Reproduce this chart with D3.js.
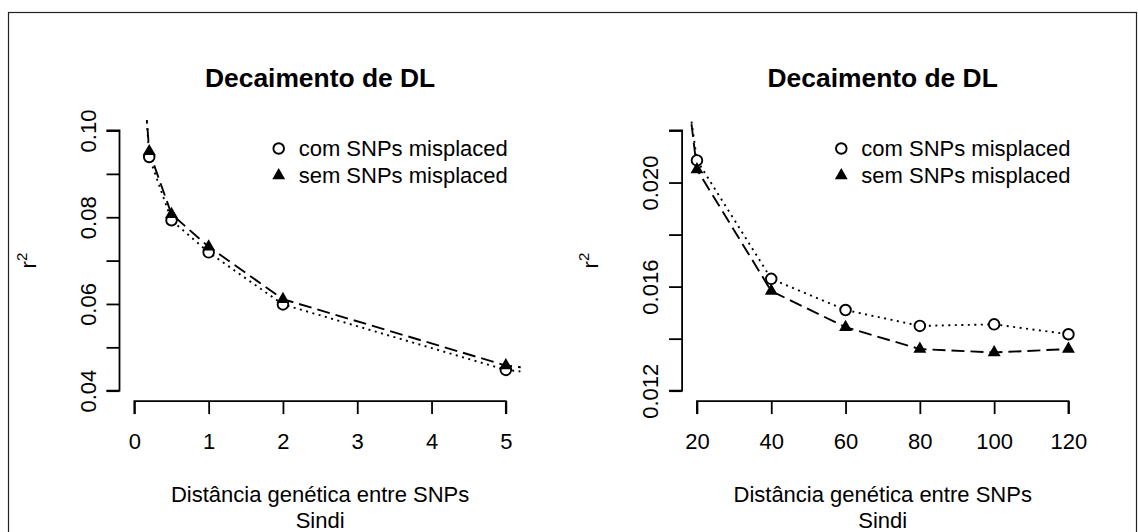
<!DOCTYPE html>
<html>
<head>
  <meta charset="utf-8">
  <title>Decaimento de DL</title>
  <style>
    body { margin: 0; background: #fff; }
    svg text { font-family: "Liberation Sans", Arial, Helvetica, sans-serif; fill: #000; }
  </style>
  <script src="https://d3js.org/d3.v7.min.js"></script>
</head>
<body>
<div id="chart"></div>
<script>
// ---- data ----
// left panel: first and last points lie outside the plot region (clipped)
var distLeft = [0.1, 0.2, 0.5, 1, 2, 5, 10];
var comLeft  = [0.120, 0.0939, 0.0793, 0.0719, 0.0599, 0.0448, 0.036];
var semLeft  = [0.118, 0.0952, 0.0807, 0.0732, 0.0611, 0.0458, 0.036];
var xTicksLeft = [0, 1, 2, 3, 4, 5];
var yTicksLeft = [0.04, 0.05, 0.06, 0.07, 0.08, 0.09, 0.10];

// right panel: first point outside the plot region (clipped)
var distRight = [10, 20, 40, 60, 80, 100, 120];
var comRight  = [0.031, 0.02085, 0.0163, 0.0151, 0.01449, 0.01455, 0.01417];
var semRight  = [0.0324, 0.0205, 0.01583, 0.01444, 0.0136, 0.01347, 0.0136];
var xTicksRight = [20, 40, 60, 80, 100, 120];
var yTicksRight = [0.012, 0.014, 0.016, 0.018, 0.020, 0.022];

var seriesNames = ["com SNPs misplaced", "sem SNPs misplaced"];
var titleText = "Decaimento de DL";
var xLabel = ["Distância genética entre SNPs", "Sindi"];

var W = 1138, H = 532;
var FS = 22;                            // base font size
var plotTop = 120.1, plotBottom = 401.1; // plot region (R style, 4% padding)

var svg = d3.select("#chart").append("svg")
    .attr("width", W).attr("height", H);

// outer frame
svg.append("rect")
    .attr("x", 8.5).attr("y", 12.5)
    .attr("width", 1128).attr("height", 540)
    .attr("fill", "none").attr("stroke", "#222").attr("stroke-width", 1.2);

function pad(dom) {
  var e = (dom[1] - dom[0]) * 0.04;
  return [dom[0] - e, dom[1] + e];
}

function panel(id, left, right, xlim, ylim, xs, com, sem, xTicks, yTicks, yFmt) {
  var x = d3.scaleLinear().domain(pad(xlim)).range([left, right]);
  var y = d3.scaleLinear().domain(pad(ylim)).range([plotBottom, plotTop]);
  var cx = (left + right) / 2;
  var g = svg.append("g");

  // title
  g.append("text")
      .attr("x", cx).attr("y", 87)
      .attr("text-anchor", "middle")
      .style("font-size", (FS * 1.2) + "px").style("font-weight", "bold")
      .text(titleText);

  // axes (R style: detached, no box)
  var xAxis = d3.axisBottom(x).tickValues(xTicks).tickSize(13).tickPadding(19)
      .tickFormat(d3.format("d"));
  var gx = g.append("g").attr("transform", "translate(0," + plotBottom + ")").call(xAxis);
  gx.select(".domain").attr("d", "M" + x(xTicks[0]) + ",13V0H" + x(xTicks[xTicks.length - 1]) + "V13");

  var yAxis = d3.axisLeft(y).tickValues(yTicks).tickSize(13)
      .tickFormat(function(d, i) { return i % 2 === 0 ? yFmt(d) : ""; });
  var gy = g.append("g").attr("transform", "translate(" + left + ",0)").call(yAxis);
  gy.select(".domain").attr("d", "M-13," + y(yTicks[0]) + "H0V" + y(yTicks[yTicks.length - 1]) + "H-13");

  [gx, gy].forEach(function(a) {
    a.selectAll("path, line").attr("stroke", "#000").attr("stroke-width", 1.8);
    a.selectAll("text").style("font-size", FS + "px").attr("fill", "#000");
  });
  gy.selectAll(".tick text")
      .attr("text-anchor", "middle")
      .attr("x", 0).attr("dy", 0)
      .attr("transform", "translate(-24,0) rotate(-90)");

  // axis labels
  g.append("text").attr("x", cx).attr("y", 502).attr("text-anchor", "middle")
      .style("font-size", FS + "px").text(xLabel[0]);
  g.append("text").attr("x", cx).attr("y", 528).attr("text-anchor", "middle")
      .style("font-size", FS + "px").text(xLabel[1]);
  var yl = g.append("text")
      .attr("transform", "translate(" + (left - 84) + "," + ((plotTop + plotBottom) / 2) + ") rotate(-90)")
      .attr("text-anchor", "middle").style("font-size", FS + "px");
  yl.append("tspan").text("r");
  yl.append("tspan").attr("dy", -9).style("font-size", "15px").text("2");

  // clip to plot region
  svg.append("clipPath").attr("id", id)
    .append("rect")
      .attr("x", left).attr("y", plotTop)
      .attr("width", right - left).attr("height", plotBottom - plotTop);

  var line = d3.line()
      .x(function(d) { return x(d[0]); })
      .y(function(d) { return y(d[1]); });
  var lines = g.append("g").attr("clip-path", "url(#" + id + ")");
  lines.append("path")
      .datum(d3.zip(xs, com))
      .attr("d", line)
      .attr("fill", "none").attr("stroke", "#000").attr("stroke-width", 1.9)
      .attr("stroke-dasharray", "2,4.5");
  lines.append("path")
      .datum(d3.zip(xs, sem))
      .attr("d", line)
      .attr("fill", "none").attr("stroke", "#000").attr("stroke-width", 1.9)
      .attr("stroke-dasharray", "13,6");

  var pts = g.append("g").attr("clip-path", "url(#" + id + ")");
  pts.selectAll("circle").data(d3.zip(xs, com)).enter().append("circle")
      .attr("cx", function(d) { return x(d[0]); })
      .attr("cy", function(d) { return y(d[1]); })
      .attr("r", 5.3)
      .attr("fill", "#fff").attr("stroke", "#000").attr("stroke-width", 1.9);
  var tri = d3.symbol().type(d3.symbolTriangle).size(72);
  pts.selectAll("path.tri").data(d3.zip(xs, sem)).enter().append("path")
      .attr("class", "tri")
      .attr("transform", function(d) { return "translate(" + x(d[0]) + "," + y(d[1]) + ")"; })
      .attr("d", tri).attr("fill", "#000");

  // legend (top right of plot region)
  var lg = g.append("g").attr("transform", "translate(" + (right - 242) + ",148.5)");
  lg.append("circle").attr("cx", 0).attr("cy", 0).attr("r", 5.3)
      .attr("fill", "none").attr("stroke", "#000").attr("stroke-width", 1.9);
  lg.append("path").attr("transform", "translate(0,27)").attr("d", tri).attr("fill", "#000");
  lg.selectAll("text").data(seriesNames).enter().append("text")
      .attr("x", 20).attr("y", function(d, i) { return i * 27; })
      .attr("dy", "0.35em")
      .style("font-size", FS + "px")
      .text(function(d) { return d; });
}

panel("clipL", 119.5, 520.7, [0, 5], [0.04, 0.10],
      distLeft, comLeft, semLeft, xTicksLeft, yTicksLeft, d3.format(".2f"));
panel("clipR", 682.1, 1083.3, [20, 120], [0.012, 0.022],
      distRight, comRight, semRight, xTicksRight, yTicksRight, d3.format(".3f"));
</script>
</body>
</html>
